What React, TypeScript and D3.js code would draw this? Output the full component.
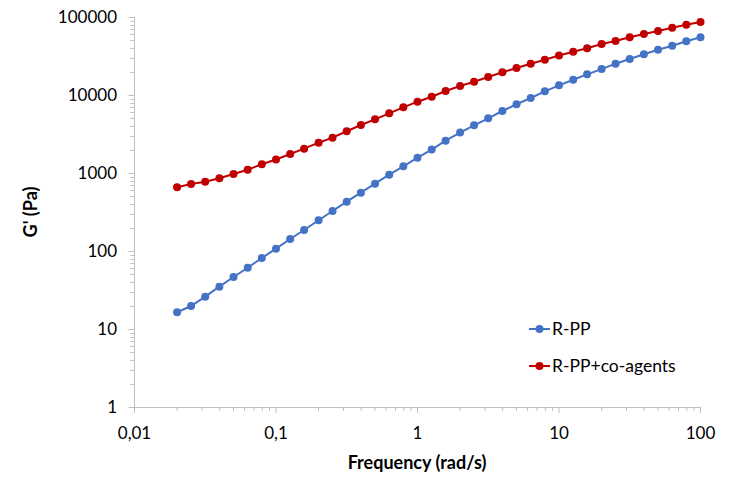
import * as React from "react";
import * as d3 from "d3";

const frequency = [
  0.02, 0.0251, 0.0316, 0.0398, 0.0501, 0.0631, 0.0794,
  0.1, 0.126, 0.158, 0.2, 0.251, 0.316, 0.398, 0.501, 0.631, 0.794,
  1, 1.26, 1.58, 2, 2.51, 3.16, 3.98, 5.01, 6.31, 7.94,
  10, 12.6, 15.8, 20, 25.1, 31.6, 39.8, 50.1, 63.1, 79.4, 100,
];

const rpp = [
  16.4, 19.7, 26, 34.9, 46.4, 61, 81.3,
  107, 142.5, 186, 248, 326, 429, 559, 729, 951, 1218,
  1571, 2000, 2600, 3300, 4089, 5026, 6234, 7604, 9162, 11150,
  13300, 15700, 18400, 21500, 25200, 28900, 33300, 38100, 42900, 48800, 54900,
];

const rppCoAgents = [
  656, 722, 773, 855, 971, 1102, 1293,
  1490, 1753, 2050, 2446, 2836, 3428, 4125, 4877, 5824, 6955,
  8209, 9506, 11250, 13040, 14820, 17010, 19540, 22190, 25190, 28370,
  32100, 35900, 39700, 45100, 49200, 54900, 60600, 66200, 72900, 79600, 86300,
];

const xTickValues = [0.01, 0.1, 1, 10, 100];
const xTickLabels = ["0,01", "0,1", "1", "10", "100"];
const yTickValues = [1, 10, 100, 1000, 10000, 100000];
const yTickLabels = ["1", "10", "100", "1000", "10000", "100000"];

const seriesNames = ["R-PP", "R-PP+co-agents"];
const seriesColors = ["#4472C4", "#C00000"];

const WIDTH = 735;
const HEIGHT = 480;
const FONT = "Lato, 'Open Sans', sans-serif";
const AXIS = "#BFBFBF";

export default function App() {
  const x = d3.scaleLog().domain([0.01, 100]).range([134.5, 700.5]);
  const y = d3.scaleLog().domain([1, 100000]).range([407, 17]);

  const line = d3
    .line<number>()
    .x((_, i) => x(frequency[i]))
    .y((d) => y(d));

  const series = [rpp, rppCoAgents];

  const isMajor = (v: number) => Math.abs(Math.log10(v) - Math.round(Math.log10(v))) < 1e-6;

  const x0 = x(0.01);
  const y0 = y(1);

  return (
    <svg
      width={WIDTH}
      height={HEIGHT}
      style={{ position: "absolute", left: 0, top: 0, background: "#fff" }}
    >
      {/* axes */}
      <line x1={x0} x2={x(100)} y1={y0 + 0.5} y2={y0 + 0.5} stroke={AXIS} />
      <line x1={x0} x2={x0} y1={y(100000)} y2={y0} stroke={AXIS} />

      {x.ticks().map((t, i) => (
        <line
          key={"xt" + i}
          x1={x(t)}
          x2={x(t)}
          y1={y0}
          y2={y0 + (isMajor(t) ? 6 : 4)}
          stroke={AXIS}
        />
      ))}
      {y.ticks().map((t, i) => (
        <line
          key={"yt" + i}
          x1={x0 - (isMajor(t) ? 6 : 4)}
          x2={x0}
          y1={Math.round(y(t)) + 0.5}
          y2={Math.round(y(t)) + 0.5}
          stroke={AXIS}
        />
      ))}

      {xTickValues.map((t, i) => (
        <text
          key={"xl" + i}
          x={x(t)}
          y={439}
          textAnchor="middle"
          fontFamily={FONT}
          fontSize={17}
          fill="#000"
        >
          {xTickLabels[i]}
        </text>
      ))}
      {yTickValues.map((t, i) => (
        <text
          key={"yl" + i}
          x={117}
          y={y(t)}
          dy="0.35em"
          textAnchor="end"
          fontFamily={FONT}
          fontSize={17}
          fill="#000"
        >
          {yTickLabels[i]}
        </text>
      ))}

      <text
        x={417}
        y={469}
        textAnchor="middle"
        fontFamily={FONT}
        fontSize={18}
        fontWeight="bold"
      >
        Frequency (rad/s)
      </text>
      <text
        transform={`translate(37,${(y(1) + y(100000)) / 2}) rotate(-90)`}
        textAnchor="middle"
        fontFamily={FONT}
        fontSize={18}
        fontWeight="bold"
      >
        G' (Pa)
      </text>

      {/* series */}
      {series.map((s, si) => (
        <g key={"s" + si}>
          <path d={line(s) ?? ""} fill="none" stroke={seriesColors[si]} strokeWidth={2} />
          {s.map((v, i) => (
            <circle key={i} cx={x(frequency[i])} cy={y(v)} r={4} fill={seriesColors[si]} />
          ))}
        </g>
      ))}

      {/* legend */}
      {seriesNames.map((name, i) => {
        const ly = 329 + i * 37;
        return (
          <g key={"lg" + i}>
            <line x1={529} x2={550} y1={ly} y2={ly} stroke={seriesColors[i]} strokeWidth={2} />
            <circle cx={539.5} cy={ly} r={4} fill={seriesColors[i]} />
            <text x={552} y={ly} dy="0.35em" fontFamily={FONT} fontSize={17.5} fill="#000">
              {name}
            </text>
          </g>
        );
      })}
    </svg>
  );
}
